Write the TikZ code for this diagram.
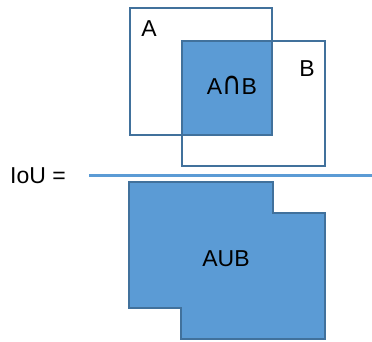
\documentclass[tikz,border=0pt]{standalone}
\usepackage{fontspec}
\setmainfont{Liberation Sans}
\newfontfamily\capfont{DejaVu Sans}
\definecolor{fillblue}{HTML}{5B9BD5}
\definecolor{edgeblue}{HTML}{41719C}
\begin{document}
\begin{tikzpicture}[x=1pt,y=-1pt,
  boxline/.style={draw=edgeblue,line width=2pt},
  lbl/.style={font=\fontsize{23}{25}\selectfont,inner sep=0pt,anchor=center}]
\useasboundingbox (0,0) rectangle (372,341);
% intersection fill
\fill[fillblue] (182,41) rectangle (272,135);
\draw[boxline] (130,8) rectangle (272,135);
\draw[boxline] (182,41) rectangle (325,166);
\node[lbl] (a) at (149,29) {A};
\node[lbl] (b) at (307,69) {B};
\node[lbl] (ab) at (232,85) {A\scalebox{1.15}[1.38]{\capfont ∩}B};
% fraction line
\coordinate (l1) at (89,175);
\coordinate (l2) at (372,175);
\draw[fillblue,line width=3pt] (l1) -- (l2);
\node[lbl] (iou) at (38,176) {IoU =};
% union
\draw[boxline,fill=fillblue] (129,182) -- (273,182) -- (273,213) -- (325,213) -- (325,339) -- (181,339) -- (181,308) -- (129,308) -- cycle;
\node[lbl] (u) at (226,259) {AUB};
\end{tikzpicture}
\end{document}
